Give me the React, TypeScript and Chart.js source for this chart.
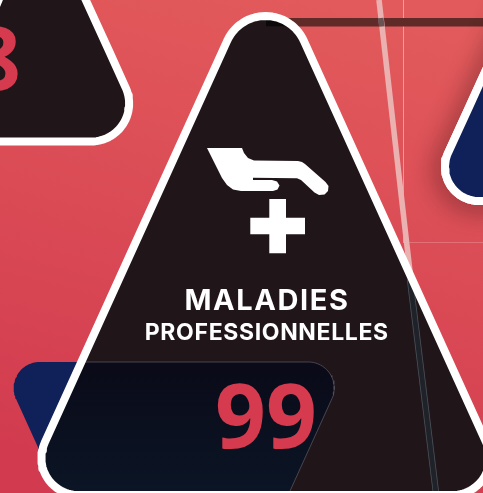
import React, { useEffect, useRef } from "react";
import { Chart, registerables } from "chart.js";

Chart.register(...registerables);

type V = [number, number, number?];

// Outlines: [x, y, corner radius]
const canvasOutline: V[] = [[0, 0], [483, 0], [483, 493], [0, 493], [0, 0]];
const mainTriangle: V[] = [[167.6, 172], [265.5, -43.6, 42], [510, 495, 37], [21, 495, 37], [167.6, 172]];
const leftTriangle: V[] = [[110, 53], [150, 141.5, 38], [-60, 141.5], [40, -100], [110, 53]];
const rightTriangle: V[] = [[470, 105], [426, 201, 34], [640, 201], [520, -5], [470, 105]];
const valueTag: V[] = [[150, 362], [348.6, 362, 26], [277, 520], [71, 520], [-0.7, 362, 26], [150, 362]];
const valueTagInner: V[] = [[150, 362], [348.6, 362, 26], [290, 491], [290, 495], [21, 495, 37], [81, 362], [150, 362]];
const handOutline: V[] = [
  [207, 148], [242, 148], [244, 153], [248, 158], [254, 160.5], [298, 161], [302, 162], [305, 164],
  [325.5, 182], [328.5, 186], [328, 191], [324.5, 194.5], [319, 195], [314.5, 192.5], [301, 180], [297, 178.3],
  [253, 177.8], [253, 180], [272, 180], [277, 181.5], [279.5, 185.5], [277.5, 189.5], [273, 191], [241, 191],
  [233, 189.5], [227, 185], [222, 178], [207, 148],
];
const crossOutline: V[] = [
  [269.3, 199], [286, 199], [286, 217.7], [305, 217.7], [305, 234.3], [286, 234.3],
  [286, 253.3], [269.3, 253.3], [269.3, 234.3], [250.3, 234.3], [250.3, 217.7], [269.3, 217.7], [269.3, 199],
];
const topBand: V[] = [[266, 22.3], [483, 22.3]];
const topBandInside: V[] = [[266, 22.3], [288, 22.3]];
const paleStripe: V[] = [[379, 0], [407, 246], [411, 280]];
const stripeCrossing: V[] = [[380.7, 18], [381.7, 26.5]];
const darkStripe: V[] = [[410, 279], [436, 493]];
const thinVertical: V[] = [[403.5, 0], [403.5, 243]];
const thinHorizontal: V[] = [[407, 242.5], [483, 242.5]];

const headline = "MALADIES";
const subline = "PROFESSIONNELLES";
const mainValue = "99";
const sideValue = "8";

function outline(vertices: V[]) {
  const out: { x: number; y: number }[] = [];
  vertices.forEach((v, i) => {
    const r = v[2] ?? 0;
    if (!r) {
      out.push({ x: v[0], y: v[1] });
      return;
    }
    const a = vertices[i - 1];
    const b = vertices[i + 1];
    const ax = a[0] - v[0], ay = a[1] - v[1], bx = b[0] - v[0], by = b[1] - v[1];
    const la = Math.hypot(ax, ay), lb = Math.hypot(bx, by);
    const ux = ax / la, uy = ay / la, wx = bx / lb, wy = by / lb;
    const angle = Math.acos(ux * wx + uy * wy);
    const d = r / Math.tan(angle / 2);
    const p0 = [v[0] + ux * d, v[1] + uy * d];
    const p1 = [v[0] + wx * d, v[1] + wy * d];
    const mx = ux + wx, my = uy + wy, ml = Math.hypot(mx, my);
    const h = r / Math.sin(angle / 2);
    const c = [v[0] + (mx / ml) * h, v[1] + (my / ml) * h];
    let s = Math.atan2(p0[1] - c[1], p0[0] - c[0]);
    let e = Math.atan2(p1[1] - c[1], p1[0] - c[0]);
    let delta = e - s;
    while (delta > Math.PI) delta -= 2 * Math.PI;
    while (delta < -Math.PI) delta += 2 * Math.PI;
    const steps = 28;
    for (let k = 0; k <= steps; k++) {
      const t = s + (delta * k) / steps;
      out.push({ x: c[0] + r * Math.cos(t), y: c[1] + r * Math.sin(t) });
    }
  });
  return out;
}

const FONT = 'Inter, "Noto Sans", sans-serif';
const DIGITS = '"Noto Sans", sans-serif';

export default function App() {
  const ref = useRef<HTMLCanvasElement>(null);
  useEffect(() => {
    document.body.style.margin = "0";
    const canvas = ref.current!;
    const ctx = canvas.getContext("2d")!;

    const bg = ctx.createLinearGradient(310, 0, 190, 493);
    bg.addColorStop(0, "#e25a5b");
    bg.addColorStop(1, "#d23b4f");
    const darkTag = ctx.createLinearGradient(0, 362, 0, 491);
    darkTag.addColorStop(0, "#0a0a18");
    darkTag.addColorStop(1, "#0b1525");

    const shape = (v: V[], fillColor: string | CanvasGradient, stroke = "transparent", width = 0, extra = {}) => ({
      data: outline(v),
      fill: "shape",
      backgroundColor: fillColor,
      borderColor: stroke,
      borderWidth: width,
      ...extra,
    });
    const line = (v: V[], stroke: string, width: number) => ({
      data: outline(v),
      fill: false,
      borderColor: stroke,
      borderWidth: width,
      borderCapStyle: "butt",
    });

    const layers: any[] = [
      shape(canvasOutline, bg),
      line(thinVertical, "rgba(255,255,255,0.17)", 1),
      line(thinHorizontal, "rgba(255,255,255,0.2)", 1),
      line(topBand, "#5f2a28", 8.5),
      line(paleStripe, "#ebb0b0", 5.6),
      line(stripeCrossing, "#6b5353", 5.6),
      shape(leftTriangle, "#20161a", "#ffffff", 8),
      { ...shape(rightTriangle, "#ffffff", "#ffffff", 8), castShadow: true },
      shape(rightTriangle, "#0f2158", "#ffffff", 8),
      shape(valueTag, "#0f2158"),
      shape(mainTriangle, "#20161a"),
      line(topBandInside, "#0b0809", 8),
      line(darkStripe, "#4a5058", 6.4),
      line(darkStripe, "#1f2228", 4.8),
      shape(valueTagInner, darkTag, "#55505a", 0.8),
      { ...shape(mainTriangle, "transparent", "#ffffff", 8), fill: false },
      shape(handOutline, "#ffffff"),
      shape(crossOutline, "#ffffff"),
    ];
    const datasets = layers.map((d, i) => ({
      ...d,
      order: layers.length - i,
      showLine: true,
      pointRadius: 0,
      pointHoverRadius: 0,
      tension: 0,
      borderJoinStyle: "round",
      clip: false,
    }));

    const chart = new Chart(canvas, {
      type: "scatter",
      data: { datasets },
      options: {
        animation: false,
        responsive: false,
        events: [],
        layout: { padding: 0 },
        plugins: { legend: { display: false }, tooltip: { enabled: false }, title: { display: false } },
        scales: {
          x: { type: "linear", min: 0, max: 483, display: false },
          y: { type: "linear", min: 0, max: 493, reverse: true, display: false },
        },
      },
      plugins: [
        {
          id: "shadow",
          beforeDatasetDraw(c: any, args: any) {
            if (datasets[args.index].castShadow) {
              c.ctx.save();
              c.ctx.shadowColor = "rgba(50,15,15,0.9)";
              c.ctx.shadowBlur = 24;
              c.ctx.shadowOffsetX = -2;
              c.ctx.shadowOffsetY = 3;
            }
          },
          afterDatasetDraw(c: any, args: any) {
            if (datasets[args.index].castShadow) c.ctx.restore();
          },
        },
        {
          id: "labels",
          afterDatasetsDraw(c: any) {
            const g = c.ctx;
            const sx = c.scales.x, sy = c.scales.y;
            const put = (t: string, x: number, y: number, font: string, color: string, spacing = "0px") => {
              g.save();
              g.font = font;
              g.letterSpacing = spacing;
              g.fillStyle = color;
              g.textAlign = "center";
              g.textBaseline = "alphabetic";
              g.fillText(t, sx.getPixelForValue(x), sy.getPixelForValue(y));
              g.restore();
            };
            put(headline, 267, 310, `700 29px ${FONT}`, "#ffffff", "1.6px");
            put(subline, 266.8, 340, `700 23px ${FONT}`, "#ffffff", "0.65px");
            put(mainValue, 266, 448, `700 89px ${DIGITS}`, "#d63a4f");
            put(sideValue, -4, 90, `700 87px ${DIGITS}`, "#d63a4f");
          },
        },
      ],
    } as any);
    return () => chart.destroy();
  }, []);
  return (
    <canvas
      ref={ref}
      width={483}
      height={493}
      style={{ position: "absolute", left: 0, top: 0, width: 483, height: 493, display: "block" }}
    />
  );
}
